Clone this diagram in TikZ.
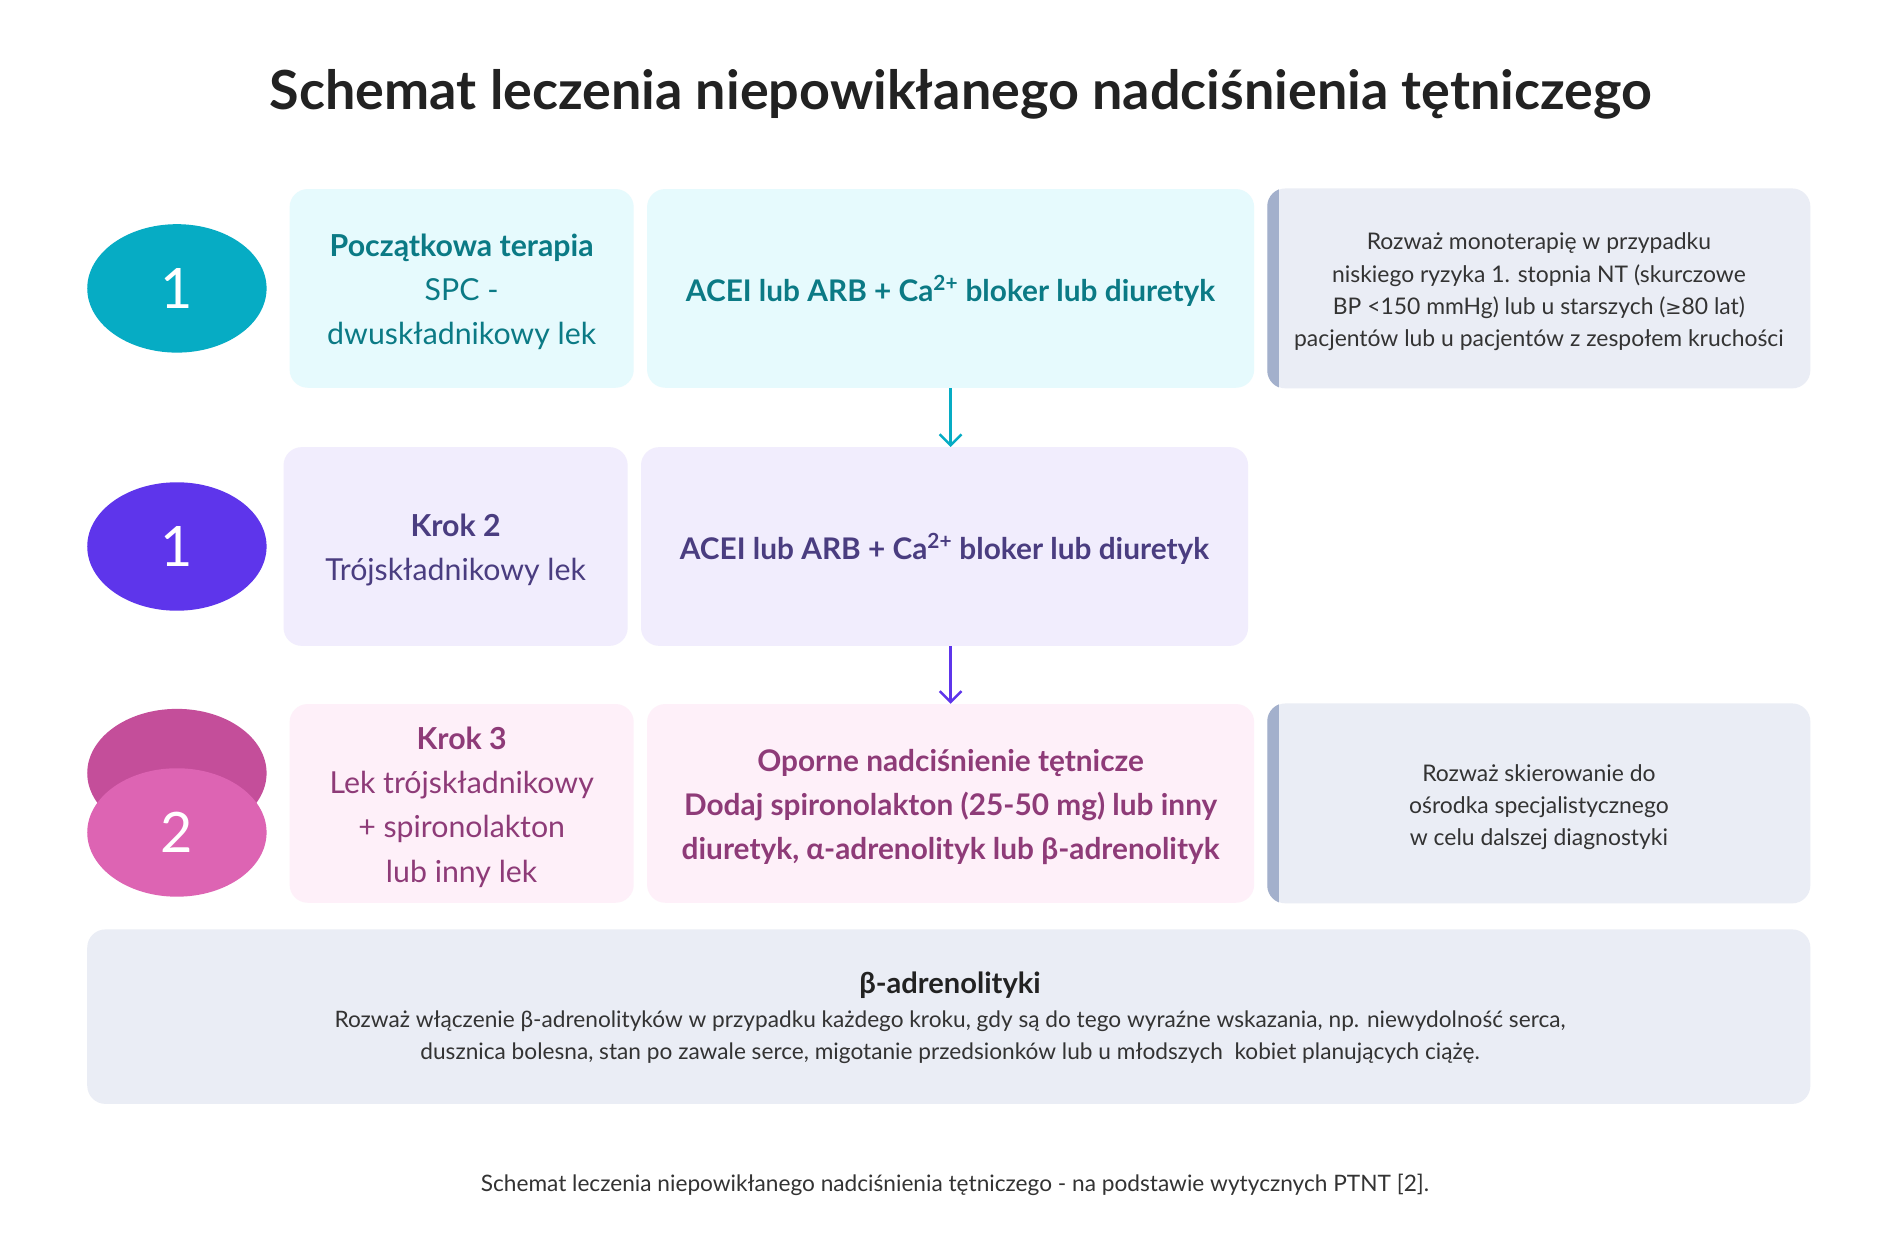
\documentclass[tikz,border=0pt]{standalone}
\usepackage{fontspec}
\setmainfont{Lato}
\newfontfamily\dejavu{DejaVu Sans}
\usetikzlibrary{shapes.geometric,arrows.meta}
\definecolor{tealc}{HTML}{06ACC4}
\definecolor{tealtxt}{HTML}{0B7A85}
\definecolor{tealbox}{HTML}{E6FAFD}
\definecolor{purc}{HTML}{5E35EB}
\definecolor{purtxt}{HTML}{4A3D80}
\definecolor{purbox}{HTML}{F1EDFD}
\definecolor{pinkback}{HTML}{C44E9A}
\definecolor{pinkfront}{HTML}{DD64B3}
\definecolor{pinktxt}{HTML}{8E3B78}
\definecolor{pinkbox}{HTML}{FEF0F9}
\definecolor{greybox}{HTML}{EAEDF5}
\definecolor{greybar}{HTML}{A3B0CC}
\definecolor{greytxt}{HTML}{333333}
\definecolor{titlec}{HTML}{222222}
\tikzset{
  stepcircle/.style={ellipse, minimum width=148pt, minimum height=106pt, inner sep=0pt, text=white, font=\fontsize{46}{50}\selectfont},
  cardbox/.style={rounded corners=15pt, inner sep=0pt, minimum height=164pt},
  smallcard/.style={cardbox, minimum width=284pt},
  bigcard/.style={cardbox, minimum width=501pt},
  notebox/.style={rounded corners=15pt, inner sep=0pt, fill=greybox, minimum width=448pt, minimum height=165pt},
  cardtext/.style={align=center, inner sep=0pt, font=\fontsize{25}{36.5}\selectfont},
  bigtext/.style={align=center, inner sep=0pt, font=\bfseries\fontsize{24.6}{36.5}\selectfont},
  notetext/.style={align=center, inner sep=0pt, text=greytxt, font=\fontsize{18.9}{26.7}\selectfont},
  flowarrow/.style={line width=2pt, -{Straight Barb[length=9pt,width=18pt,line width=2pt]}},
}
\begin{document}
\begin{tikzpicture}[x=1pt,y=-1pt]
\useasboundingbox[fill=white] (0,0) rectangle (1568,1028);
% title
\node[font=\bfseries\fontsize{44.5}{50}\selectfont, text=titlec] (title) at (793,78) {Schemat leczenia niepowikłanego nadciśnienia tętniczego};
% row 1
\node[stepcircle, fill=tealc] (c1) at (146,238) {1};
\node[smallcard, fill=tealbox] (a1) at (381,238) {};
\node[cardtext, text=tealtxt] (a1t) at ([yshift=-3pt]a1.center) {\textbf{Początkowa terapia}\\SPC -\\dwuskładnikowy lek};
\node[bigcard, fill=tealbox] (b1) at (784.5,238) {};
\node[bigtext, text=tealtxt] (b1t) at ([yshift=-2pt]b1.center) {ACEI lub ARB + Ca\textsuperscript{2+} bloker lub diuretyk};
\node[notebox] (n1) at (1270,238) {};
\node[notetext] (n1t) at ([xshift=0pt,yshift=-3pt]n1.center) {Rozważ monoterapię w przypadku\\niskiego ryzyka 1. stopnia NT (skurczowe\\BP <150 mmHg) lub u starszych ({\dejavu\fontsize{16}{26.7}\selectfont ≥}80 lat)\\pacjentów lub u pacjentów z zespołem kruchości};
% row 2
\node[stepcircle, fill=purc] (c2) at (146,451) {1};
\node[smallcard, fill=purbox] (a2) at (376,451) {};
\node[cardtext, text=purtxt] (a2t) at ([yshift=-3pt]a2.center) {\textbf{Krok 2}\\Trójskładnikowy lek};
\node[bigcard, fill=purbox] (b2) at (779.5,451) {};
\node[bigtext, text=purtxt] (b2t) at ([yshift=-2pt]b2.center) {ACEI lub ARB + Ca\textsuperscript{2+} bloker lub diuretyk};
% row 3
\node[stepcircle, fill=pinkback] (c3b) at (146,638) {};
\node[stepcircle, fill=pinkfront] (c3) at (146,687) {2};
\node[smallcard, fill=pinkbox] (a3) at (381,663) {};
\node[cardtext, text=pinktxt] (a3t) at ([yshift=-3pt]a3.center) {\textbf{Krok 3}\\Lek trójskładnikowy\\+ spironolakton\\lub inny lek};
\node[bigcard, fill=pinkbox] (b3) at (784.5,663) {};
\node[bigtext, text=pinktxt] (b3t) at ([yshift=-3pt]b3.center) {Oporne nadciśnienie tętnicze\\Dodaj spironolakton (25-50 mg) lub inny\\diuretyk, α-adrenolityk lub β-adrenolityk};
\node[notebox] (n3) at (1270,663) {};
\node[notetext] (n3t) at ([yshift=-3pt]n3.center) {Rozważ skierowanie do\\ośrodka specjalistycznego\\w celu dalszej diagnostyki};
% left bars of the notes
\foreach \n in {n1,n3}{
  \begin{scope}
    \clip[rounded corners=15pt] (\n.south west) rectangle (\n.north east);
    \fill[greybar] (\n.south west) rectangle ([xshift=10pt]\n.north west);
  \end{scope}
}
% bottom box
\node[rounded corners=15pt, fill=greybox, minimum width=1422pt, minimum height=144pt, inner sep=0pt] (bot) at (783,839) {};
\node[font=\bfseries\fontsize{24}{28}\selectfont, text=titlec] (bott) at (784,813) {β-adrenolityki};
\node[align=center, text=greytxt, font=\fontsize{18.7}{26.5}\selectfont] (botx) at (784,856) {Rozważ włączenie β-adrenolityków w przypadku każdego kroku, gdy są do tego wyraźne wskazania, np. niewydolność serca,\\dusznica bolesna, stan po zawale serce, migotanie przedsionków lub u młodszych\ \ kobiet planujących ciążę.};
% footer
\node[text=greytxt, font=\fontsize{18.7}{22}\selectfont] (foot) at (788,978) {Schemat leczenia niepowikłanego nadciśnienia tętniczego - na podstawie wytycznych PTNT [2].};
% arrows
\draw[flowarrow, tealc] (b1.south) -- (b1.south |- b2.north);
\draw[flowarrow, purc] (b1.south |- b2.south) -- (b1.south |- b3.north);
\end{tikzpicture}
\end{document}
